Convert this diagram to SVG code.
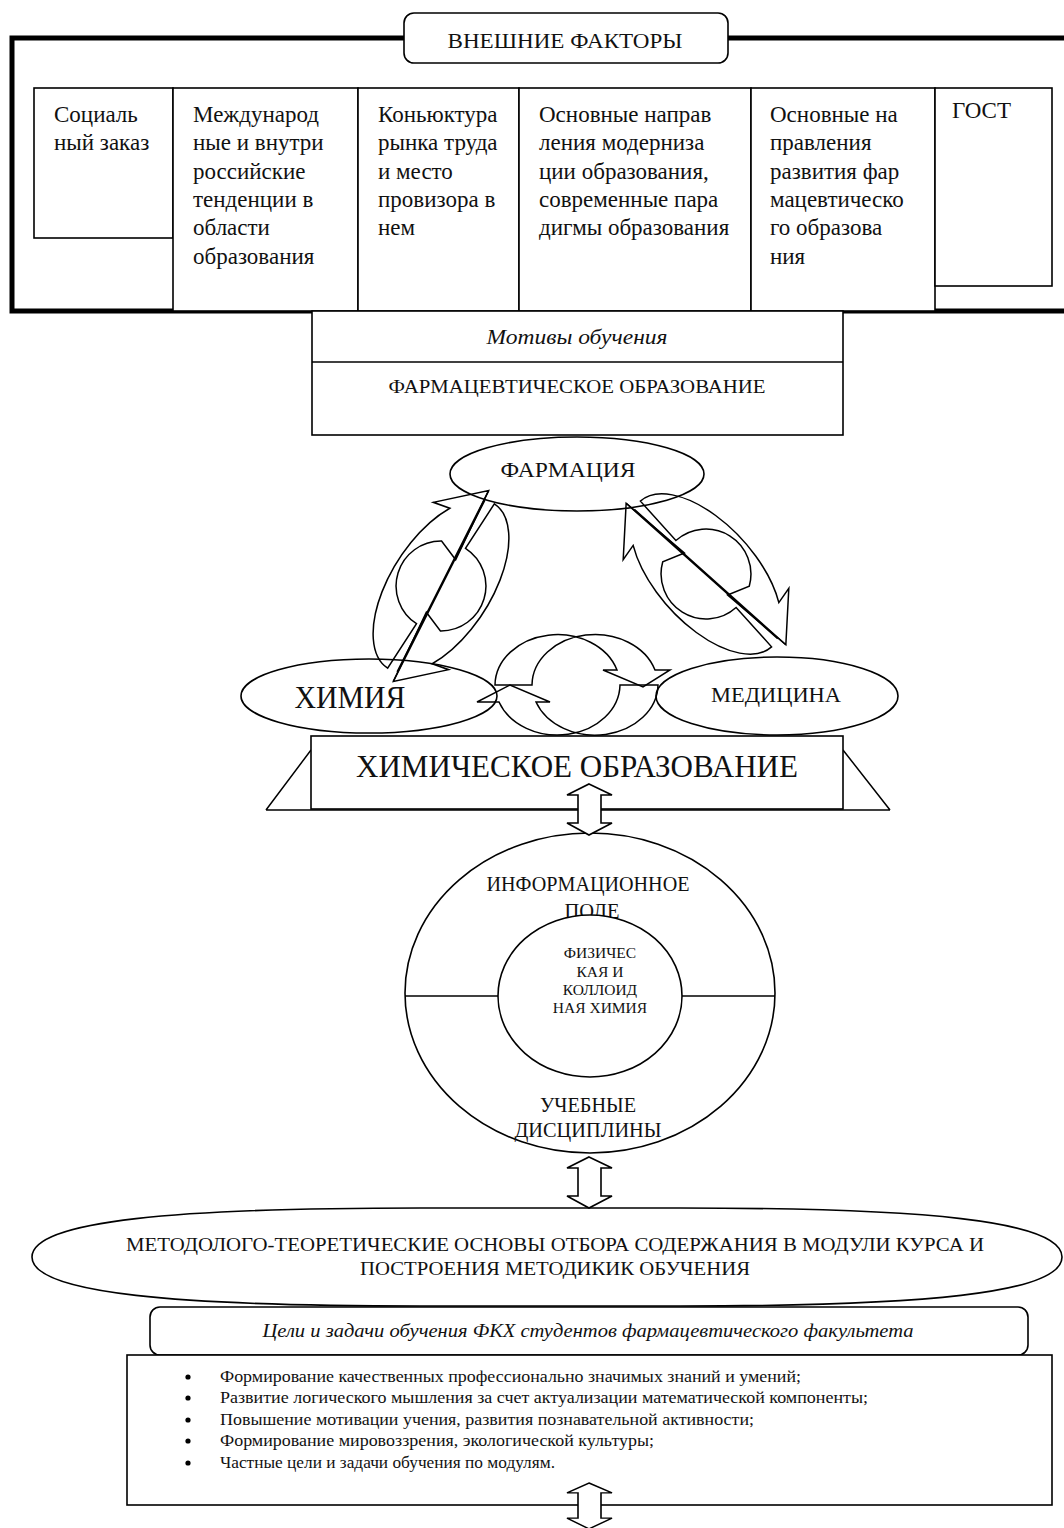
<svg xmlns="http://www.w3.org/2000/svg" width="1064" height="1528" viewBox="0 0 1064 1528">
<defs>
<style>
.ln{fill:none;stroke:#000;stroke-width:1.5}
.bx{fill:#fff;stroke:#000;stroke-width:1.6}
.thick{fill:none;stroke:#000;stroke-width:5}
text{font-family:"Liberation Serif","Times New Roman","DejaVu Serif",serif;fill:#111}
.c{text-anchor:middle}
.col{font-size:23px}
.it{font-style:italic}
.bul{font-size:16px}
</style>
<g id="cyc">
<path class="ln" d="M-98,0 A98,50 0 0 1 70,-35 L66,-52 L106,-12 L30,-2 L38,-24 A45,45 0 0 0 -45,0 Z"/>
<path class="ln" d="M98,0 A98,50 0 0 1 -70,35 L-66,52 L-106,12 L-30,2 L-38,24 A45,45 0 0 0 45,0 Z"/>
<path class="ln" d="M-96,10 L106,-12 M-106,12 L96,-10"/>
</g>
<path id="dbl" d="M0,0 L23,11 L12,11 L12,39 L23,39 L0,51 L-22,39 L-11,39 L-11,11 L-22,11 Z" fill="#fff" stroke="#000" stroke-width="1.6"/>
</defs>
<rect width="1064" height="1528" fill="#fff"/>

<g id="external-frame">
<path class="thick" d="M404,38 H12 V311 H312 M728,38 H1070 M843,311 H1070"/>
</g>
<g id="col-social"><rect class="bx" x="34" y="88" width="139" height="150"/>
<text class="col" x="54" y="122">Социаль</text><text class="col" x="54" y="150.3">ный заказ</text></g>
<g id="col-trends"><rect class="bx" x="173" y="88" width="185" height="223"/>
<text class="col" x="193" y="122">Международ</text><text class="col" x="193" y="150.3">ные и внутри</text><text class="col" x="193" y="178.6">российские</text><text class="col" x="193" y="207">тенденции в</text><text class="col" x="193" y="235.3">области</text><text class="col" x="193" y="263.6">образования</text></g>
<g id="col-market"><rect class="bx" x="358" y="88" width="161" height="223"/>
<text class="col" x="378" y="122">Коньюктура</text><text class="col" x="378" y="150.3">рынка труда</text><text class="col" x="378" y="178.6">и место</text><text class="col" x="378" y="207">провизора в</text><text class="col" x="378" y="235.3">нем</text></g>
<g id="col-modern"><rect class="bx" x="519" y="88" width="232" height="223"/>
<text class="col" x="539" y="122">Основные направ</text><text class="col" x="539" y="150.3">ления модерниза</text><text class="col" x="539" y="178.6">ции образования,</text><text class="col" x="539" y="207">современные пара</text><text class="col" x="539" y="235.3">дигмы образования</text></g>
<g id="col-pharm"><rect class="bx" x="751" y="88" width="184" height="223"/>
<text class="col" x="770" y="122">Основные на</text><text class="col" x="770" y="150.3">правления</text><text class="col" x="770" y="178.6">развития фар</text><text class="col" x="770" y="207">мацевтическо</text><text class="col" x="770" y="235.3">го образова</text><text class="col" x="770" y="263.6">ния</text></g>
<g id="col-gost"><rect class="bx" x="935" y="88" width="117" height="198"/>
<text class="col" x="952" y="118">ГОСТ</text></g>
<g id="external-title"><rect class="bx" x="404" y="13" width="324" height="50" rx="10"/>
<text class="c" x="565" y="48" font-size="21" textLength="235" lengthAdjust="spacingAndGlyphs">ВНЕШНИЕ ФАКТОРЫ</text></g>

<g id="pharm-education"><rect class="bx" x="312" y="311" width="531" height="124"/>
<line class="ln" x1="312" y1="362" x2="843" y2="362"/>
<text class="c it" x="577" y="344" font-size="20" textLength="181" lengthAdjust="spacingAndGlyphs">Мотивы обучения</text>
<text class="c" x="577" y="393" font-size="19" textLength="377" lengthAdjust="spacingAndGlyphs">ФАРМАЦЕВТИЧЕСКОЕ ОБРАЗОВАНИЕ</text></g>

<g id="pharmacy"><ellipse class="bx" cx="577" cy="474" rx="127" ry="37"/>
<text class="c" x="568" y="477" font-size="21" textLength="135" lengthAdjust="spacingAndGlyphs">ФАРМАЦИЯ</text></g>

<g id="chem-education">
<path class="ln" d="M266,810 L311,750 M843,750 L890,810 M266,810 H890"/>
<rect class="bx" x="311" y="736" width="532" height="73"/>
<text class="c" x="577" y="777" font-size="32" textLength="442" lengthAdjust="spacingAndGlyphs">ХИМИЧЕСКОЕ ОБРАЗОВАНИЕ</text></g>

<g id="chemistry"><ellipse class="bx" cx="369" cy="696" rx="128" ry="37"/>
<text class="c" x="350" y="708" font-size="32" textLength="111" lengthAdjust="spacingAndGlyphs">ХИМИЯ</text></g>
<g id="medicine"><ellipse class="bx" cx="777" cy="696" rx="121" ry="39"/>
<text class="c" x="776" y="702" font-size="22" textLength="130" lengthAdjust="spacingAndGlyphs">МЕДИЦИНА</text></g>

<g id="info-field">
<ellipse class="bx" cx="590" cy="993" rx="185" ry="160"/>
<line class="ln" x1="405" y1="996" x2="775" y2="996"/>
<text class="c" x="588" y="891" font-size="20" textLength="203" lengthAdjust="spacingAndGlyphs">ИНФОРМАЦИОННОЕ</text>
<text class="c" x="592" y="918" font-size="20" textLength="55" lengthAdjust="spacingAndGlyphs">ПОЛЕ</text>
<text class="c" x="588" y="1112" font-size="20" textLength="96" lengthAdjust="spacingAndGlyphs">УЧЕБНЫЕ</text>
<text class="c" x="588" y="1137" font-size="20" textLength="147" lengthAdjust="spacingAndGlyphs">ДИСЦИПЛИНЫ</text>
</g>
<g id="phys-colloid-chem"><ellipse class="bx" cx="590" cy="996" rx="92" ry="81"/>
<text class="c" x="600" y="958" font-size="15.5">ФИЗИЧЕС</text>
<text class="c" x="600" y="977" font-size="15.5">КАЯ И</text>
<text class="c" x="600" y="995" font-size="15.5">КОЛЛОИД</text>
<text class="c" x="600" y="1013" font-size="15.5">НАЯ ХИМИЯ</text></g>

<g id="method-basis">
<path class="bx" d="M32,1257 C32,1220 180,1208 420,1208 L680,1208 C920,1208 1062,1220 1062,1257 C1062,1294 920,1306 680,1306 L420,1306 C180,1306 32,1294 32,1257 Z"/>
<text class="c" x="555" y="1251" font-size="19" textLength="858" lengthAdjust="spacingAndGlyphs">МЕТОДОЛОГО-ТЕОРЕТИЧЕСКИЕ ОСНОВЫ ОТБОРА СОДЕРЖАНИЯ В МОДУЛИ КУРСА И</text>
<text class="c" x="555" y="1275" font-size="19" textLength="390" lengthAdjust="spacingAndGlyphs">ПОСТРОЕНИЯ МЕТОДИКИК ОБУЧЕНИЯ</text></g>

<g id="goals-title"><rect class="bx" x="150" y="1307" width="878" height="48" rx="10"/>
<text class="c it" x="588" y="1337" font-size="18" textLength="651" lengthAdjust="spacingAndGlyphs">Цели и задачи обучения ФКХ студентов фармацевтического факультета</text></g>

<g id="goals-list"><rect class="bx" x="127" y="1355" width="925" height="150"/>
<circle cx="188" cy="1377" r="2.6"/><circle cx="188" cy="1398" r="2.6"/><circle cx="188" cy="1420" r="2.6"/><circle cx="188" cy="1441" r="2.6"/><circle cx="188" cy="1463" r="2.6"/>
<text class="bul" x="220" y="1382" textLength="581" lengthAdjust="spacingAndGlyphs">Формирование качественных профессионально значимых знаний и умений;</text>
<text class="bul" x="220" y="1403" textLength="648" lengthAdjust="spacingAndGlyphs">Развитие логического мышления за счет актуализации математической компоненты;</text>
<text class="bul" x="220" y="1425" textLength="534" lengthAdjust="spacingAndGlyphs">Повышение мотивации учения, развития познавательной активности;</text>
<text class="bul" x="220" y="1446" textLength="434" lengthAdjust="spacingAndGlyphs">Формирование мировоззрения, экологической культуры;</text>
<text class="bul" x="220" y="1468" textLength="335" lengthAdjust="spacingAndGlyphs">Частные цели и задачи обучения по модулям.</text></g>

<g id="connectors">
<use href="#cyc" transform="translate(441,586) rotate(-57)"/>
<use href="#cyc" transform="translate(706,574) rotate(48)"/>
<path class="ln" d="M495,685 A62.5,51 0 0 1 617,670 L603,670 L643,687 L670,670 L655,670 A63,51 0 0 0 532,685 Z"/>
<path class="ln" d="M620,685 A62.5,51 0 0 1 499,702 L477,702 L510,685 L550,702 L536,702 A63,51 0 0 0 658,685 Z"/>
<use href="#dbl" transform="translate(589,784)"/>
<use href="#dbl" transform="translate(589,1157)"/>
<use href="#dbl" transform="translate(589,1483) scale(1,0.9)"/>
</g>
</svg>
